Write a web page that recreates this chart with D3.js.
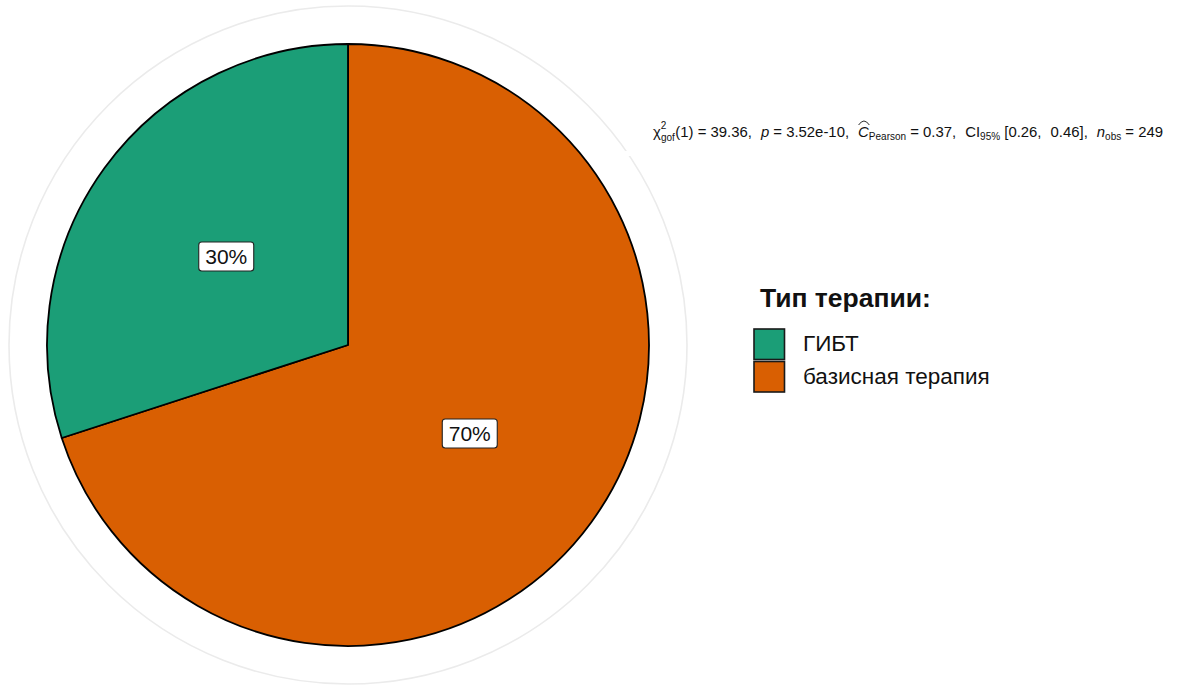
<!DOCTYPE html>
<html>
<head>
<meta charset="utf-8">
<script src="https://cdn.jsdelivr.net/npm/d3@7"></script>
<style>
  body { margin: 0; background: #fff; }
  text { font-family: "Liberation Sans", Arial, sans-serif; }
</style>
</head>
<body>
<div id="chart-area"></div>
<script>
// data
var categories = ["базисная терапия", "ГИБТ"];
var legendOrder = ["ГИБТ", "базисная терапия"];
var shares = [70, 30];
var colors = { "ГИБТ": "#1b9e77", "базисная терапия": "#d95f02" };
var legendTitle = "Тип терапии:";

var width = 1181, height = 686;
var cx = 348, cy = 345, radius = 301;

var svg = d3.select("#chart-area").append("svg")
	.attr("width", width)
	.attr("height", height);

// grey panel circle
svg.append("circle")
	.attr("cx", cx).attr("cy", cy).attr("r", 339)
	.attr("fill", "none")
	.attr("stroke", "#ebebeb")
	.attr("stroke-width", 1.6);

// small break in the panel circle
svg.append("rect")
	.attr("x", 622).attr("y", 151).attr("width", 14).attr("height", 5)
	.attr("fill", "#fff");

var g = svg.append("g")
	.attr("transform", "translate(" + cx + "," + cy + ")");

var data = categories.map(function (c, i) { return { cat: c, value: shares[i] }; });

var pie = d3.pie().sort(null).value(function (d) { return d.value; });
var arc = d3.arc().innerRadius(0).outerRadius(radius);
var labelArc = d3.arc().innerRadius(radius / 2).outerRadius(radius / 2);

var arcs = pie(data);

g.selectAll("path.slice").data(arcs).enter().append("path")
	.attr("class", "slice")
	.attr("d", arc)
	.attr("fill", function (d) { return colors[d.data.cat]; })
	.attr("stroke", "#000")
	.attr("stroke-width", 1.8)
	.attr("stroke-linejoin", "round");

// percent labels with boxes
var labels = g.selectAll("g.lab").data(arcs).enter().append("g")
	.attr("class", "lab")
	.attr("transform", function (d) {
		var c = labelArc.centroid(d);
		return "translate(" + c[0] + "," + c[1] + ")";
	});

labels.append("rect")
	.attr("x", -27.5).attr("y", -14.5)
	.attr("width", 55).attr("height", 29)
	.attr("rx", 3).attr("ry", 3)
	.attr("fill", "#fff")
	.attr("stroke", "#222")
	.attr("stroke-width", 1.1);

labels.append("text")
	.attr("text-anchor", "middle")
	.attr("y", 7.5)
	.attr("font-size", "21px")
	.attr("fill", "#111")
	.text(function (d) { return d.data.value + "%"; });

// subtitle
var sub = svg.append("text")
	.attr("x", 653)
	.attr("y", 137)
	.attr("font-size", "14.9px")
	.attr("fill", "#111");

function part(txt, opts) {
	opts = opts || {};
	var t = sub.append("tspan").text(txt);
	if (opts.size) t.attr("font-size", opts.size);
	if (opts.dy) t.attr("dy", opts.dy);
	if (opts.dx) t.attr("dx", opts.dx);
	if (opts.italic) t.attr("font-style", "italic");
	return t;
}
var gap = 5;
part("χ");
part("2", { size: "10px", dy: -8 });
part("gof", { size: "10px", dy: 12, dx: -5.5 });
part("(1) = 39.36,", { dy: -4, dx: 0.5 });
part("p", { italic: true, dx: gap + 4 });
part(" = 3.52e-10,");
var cHat = part("C", { italic: true, dx: gap + 4 });
part("Pearson", { size: "10px", dy: 3 });
part(" = 0.37,", { dy: -3 });
part("CI", { dx: gap + 4 });
part("95%", { size: "10px", dy: 3 });
part(" [0.26,", { dy: -3 });
part("0.46],", { dx: gap + 4 });
part("n", { italic: true, dx: gap + 4 });
part("obs", { size: "10px", dy: 3 });
part(" = 249", { dy: -3 });

// hat over C
var cExt = cHat.node().getExtentOfChar(0);
svg.append("path")
	.attr("d", "M" + (cExt.x + 0.5) + "," + (cExt.y + 1) +
		" Q" + (cExt.x + cExt.width / 2 + 0.5) + "," + (cExt.y - 7) +
		" " + (cExt.x + cExt.width + 0.5) + "," + (cExt.y + 1))
	.attr("fill", "none")
	.attr("stroke", "#111")
	.attr("stroke-width", 0.9);

// legend
var legend = svg.append("g").attr("transform", "translate(753,0)");

legend.append("text")
	.attr("x", 7).attr("y", 307)
	.attr("font-size", "26.5px")
	.attr("font-weight", "bold")
	.attr("fill", "#111")
	.text(legendTitle);

var keySize = 32.5;
var keys = legend.selectAll("g.key").data(legendOrder).enter().append("g")
	.attr("class", "key")
	.attr("transform", function (d, i) { return "translate(0," + (328 + i * keySize) + ")"; });

keys.append("rect")
	.attr("x", 1).attr("y", 1)
	.attr("width", keySize - 2).attr("height", keySize - 2)
	.attr("fill", function (d) { return colors[d]; })
	.attr("stroke", "#1a1a1a")
	.attr("stroke-width", 1.6);

keys.append("text")
	.attr("x", 50)
	.attr("y", keySize / 2 + 7)
	.attr("font-size", "22.5px")
	.attr("fill", "#111")
	.text(function (d) { return d; });
</script>
</body>
</html>
